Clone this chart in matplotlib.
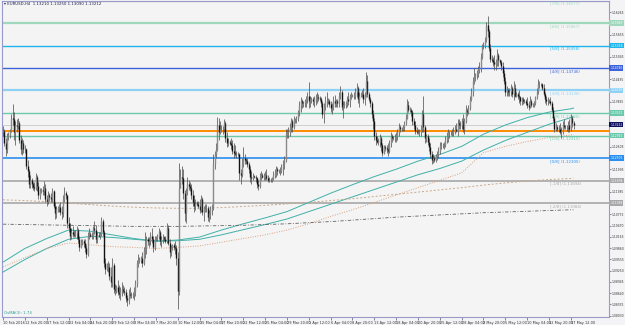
import matplotlib
matplotlib.use('Agg')
import matplotlib.pyplot as plt
import numpy as np

# ---------------- data (EURUSD H4, prices in 1/10000) ----------------
first_open = 11300
closes = [
    11305, 11270, 11255, 11290, 11292,                 # 10 Feb
    11305, 11340, 11335, 11300, 11320, 11318,          # 11 Feb
    11325, 11280, 11255, 11270, 11255, 11255,          # 12 Feb
    11210, 11195, 11160, 11170, 11160, 11153,          # 15 Feb
    11150, 11180, 11155, 11130, 11140, 11145,
    11140, 11150, 11120, 11115, 11130, 11125,
    11118, 11140, 11100, 11080, 11092, 11095,
    11098, 11085, 11080, 11120, 11135, 11130,
    11055, 11040, 11020, 11030, 11025, 11022,          # 22 Feb
    11028, 11035, 11012, 10990, 11000, 11005,
    11000, 10985, 10970, 11020, 11025, 11020,
    11018, 11040, 11035, 11010, 11022, 11020,
    11025, 11060, 11030, 10945, 10930, 10935,
    10935, 10910, 10895, 10940, 10875, 10872,          # 29 Feb
    10880, 10868, 10862, 10870, 10875, 10870,
    10868, 10850, 10845, 10862, 10858, 10860,
    10862, 10870, 10890, 10945, 10955, 10955,
    10960, 10945, 10980, 10985, 11010, 11005,
    11005, 11020, 11010, 10990, 11012, 11015,          # 7 Mar
    11018, 11030, 11005, 11010, 11015, 11010,
    11005, 11040, 11000, 10975, 10990, 10995,
    10990, 10985, 10960, 10870, 11150, 11180,
    11175, 11135, 11080, 11140, 11160, 11155,
    11150, 11130, 11110, 11100, 11108, 11105,          # 14 Mar
    11100, 11090, 11120, 11085, 11095, 11095,
    11095, 11070, 11080, 11090, 11100, 11215,
    11240, 11255, 11320, 11300, 11310, 11310,
    11310, 11325, 11285, 11270, 11275, 11270,
    11265, 11250, 11245, 11240, 11242, 11240,          # 21 Mar
    11190, 11185, 11215, 11230, 11225, 11222,
    11215, 11200, 11180, 11175, 11182, 11180,
    11175, 11160, 11155, 11180, 11185, 11180,
    11180, 11185, 11175, 11172, 11170, 11170,
    11175, 11185, 11190, 11200, 11195, 11195,          # 28 Mar
    11195, 11205, 11215, 11225, 11295, 11300,
    11300, 11315, 11330, 11315, 11335, 11335,
    11340, 11355, 11375, 11385, 11380, 11380,
    11385, 11390, 11400, 11385, 11390, 11390,
    11385, 11390, 11395, 11395, 11392, 11390,          # 4 Apr
    11380, 11350, 11370, 11385, 11385, 11385,
    11378, 11365, 11370, 11385, 11380, 11385,
    11380, 11400, 11410, 11370, 11375, 11375,
    11380, 11390, 11385, 11400, 11400, 11400,
    11400, 11410, 11420, 11390, 11400, 11405,          # 11 Apr
    11405, 11390, 11400, 11440, 11405, 11390,
    11380, 11350, 11330, 11290, 11280, 11275,
    11275, 11285, 11265, 11245, 11260, 11258,
    11255, 11250, 11270, 11290, 11285, 11285,
    11285, 11290, 11300, 11315, 11310, 11310,          # 18 Apr
    11315, 11325, 11340, 11375, 11360, 11360,
    11355, 11330, 11320, 11305, 11300, 11300,
    11300, 11310, 11350, 11315, 11285, 11290,
    11275, 11260, 11240, 11225, 11230, 11225,
    11235, 11240, 11250, 11265, 11265, 11265,          # 25 Apr
    11265, 11280, 11290, 11300, 11300, 11300,
    11300, 11305, 11310, 11305, 11325, 11320,
    11320, 11330, 11310, 11330, 11360, 11355,
    11365, 11390, 11410, 11440, 11450, 11455,
    11460, 11470, 11475, 11505, 11535, 11535,          # 2 May
    11550, 11590, 11575, 11530, 11500, 11497,
    11490, 11485, 11490, 11510, 11495, 11490,
    11480, 11460, 11440, 11410, 11415, 11410,
    11410, 11420, 11405, 11420, 11400, 11405,
    11400, 11395, 11385, 11390, 11385, 11385,          # 9 May
    11380, 11375, 11370, 11385, 11375, 11375,
    11380, 11395, 11410, 11430, 11430, 11430,
    11420, 11405, 11390, 11385, 11385, 11385,
    11380, 11360, 11340, 11310, 11315, 11310,
    11310, 11300, 11305, 11320, 11315, 11315,          # 16 May
    11315, 11320, 11310, 11340, 11325, 11321,
]
highs = [
    11318, 11310, 11285, 11298, 11300,
    11310, 11350, 11376, 11355, 11330, 11335,
    11338, 11330, 11292, 11285, 11280, 11265,
    11258, 11225, 11200, 11185, 11175, 11165,
    11165, 11190, 11185, 11165, 11150, 11150,
    11155, 11168, 11160, 11130, 11140, 11135,
    11135, 11148, 11145, 11110, 11100, 11100,
    11105, 11110, 11100, 11130, 11153, 11140,
    11085, 11070, 11055, 11040, 11045, 11035,
    11035, 11045, 11040, 11020, 11010, 11010,
    11012, 11010, 10995, 11030, 11040, 11030,
    11030, 11045, 11060, 11050, 11030, 11030,
    11030, 11070, 11065, 11035, 10960, 10945,
    10950, 10945, 10935, 10960, 10945, 10890,
    10885, 10900, 10885, 10880, 10895, 10885,
    10880, 10875, 10860, 10875, 10880, 10868,
    10868, 10880, 10900, 10955, 10970, 10962,
    10965, 10975, 10990, 11030, 11020, 11015,
    11015, 11030, 11040, 11020, 11020, 11020,
    11025, 11040, 11035, 11020, 11025, 11018,
    11020, 11055, 11050, 11010, 10995, 10998,
    11000, 11005, 10995, 10975, 11218, 11200,
    11210, 11200, 11145, 11150, 11180, 11170,
    11165, 11160, 11145, 11130, 11120, 11115,
    11115, 11120, 11130, 11125, 11100, 11105,
    11105, 11100, 11090, 11100, 11105, 11240,
    11250, 11270, 11342, 11340, 11330, 11320,
    11318, 11335, 11330, 11300, 11285, 11280,
    11285, 11280, 11270, 11265, 11250, 11248,
    11245, 11200, 11230, 11260, 11240, 11230,
    11230, 11220, 11210, 11195, 11190, 11185,
    11185, 11180, 11170, 11190, 11195, 11190,
    11190, 11195, 11200, 11185, 11180, 11175,
    11180, 11195, 11200, 11210, 11205, 11200,
    11205, 11215, 11225, 11235, 11310, 11310,
    11315, 11325, 11340, 11335, 11345, 11340,
    11345, 11360, 11385, 11395, 11390, 11385,
    11390, 11400, 11410, 11438, 11400, 11395,
    11395, 11400, 11405, 11410, 11405, 11398,
    11395, 11385, 11380, 11400, 11410, 11392,
    11390, 11385, 11380, 11400, 11402, 11390,
    11390, 11410, 11425, 11415, 11385, 11385,
    11385, 11400, 11410, 11405, 11410, 11405,
    11410, 11420, 11435, 11425, 11410, 11410,
    11415, 11420, 11410, 11464, 11455, 11410,
    11395, 11385, 11360, 11340, 11300, 11290,
    11285, 11295, 11290, 11270, 11265, 11265,
    11265, 11270, 11280, 11300, 11295, 11290,
    11295, 11300, 11310, 11325, 11320, 11315,
    11320, 11330, 11350, 11390, 11385, 11370,
    11365, 11360, 11340, 11330, 11315, 11310,
    11310, 11320, 11360, 11400, 11320, 11295,
    11295, 11285, 11270, 11250, 11240, 11235,
    11240, 11250, 11260, 11275, 11275, 11270,
    11275, 11290, 11300, 11308, 11305, 11303,
    11310, 11315, 11320, 11325, 11335, 11335,
    11330, 11340, 11350, 11340, 11375, 11365,
    11375, 11400, 11420, 11450, 11475, 11460,
    11470, 11480, 11490, 11515, 11540, 11545,
    11560, 11600, 11616, 11580, 11540, 11510,
    11505, 11510, 11500, 11525, 11515, 11500,
    11495, 11490, 11470, 11450, 11425, 11420,
    11420, 11430, 11425, 11440, 11430, 11410,
    11410, 11415, 11400, 11395, 11395, 11390,
    11390, 11395, 11385, 11400, 11390, 11380,
    11385, 11400, 11420, 11445, 11440, 11435,
    11435, 11430, 11410, 11400, 11395, 11390,
    11395, 11385, 11370, 11345, 11325, 11320,
    11320, 11325, 11315, 11330, 11336, 11320,
    11320, 11330, 11335, 11350, 11345, 11330,
]
lows = [
    11290, 11262, 11236, 11245, 11278,
    11285, 11300, 11320, 11280, 11265, 11300,
    11310, 11270, 11240, 11238, 11245, 11245,
    11200, 11180, 11150, 11148, 11150, 11145,
    11140, 11145, 11140, 11120, 11120, 11135,
    11130, 11130, 11110, 11100, 11105, 11115,
    11110, 11110, 11095, 11065, 11068, 11085,
    11085, 11075, 11064, 11070, 11110, 11120,
    11040, 11030, 11008, 11010, 11015, 11015,
    11015, 11010, 11000, 10978, 10985, 10995,
    10990, 10975, 10960, 10965, 11010, 11015,
    11010, 11010, 11025, 11000, 11000, 11015,
    11010, 11020, 11020, 10935, 10915, 10925,
    10920, 10900, 10880, 10880, 10865, 10860,
    10865, 10860, 10850, 10845, 10855, 10865,
    10860, 10840, 10830, 10835, 10850, 10850,
    10850, 10845, 10855, 10880, 10935, 10945,
    10945, 10935, 10940, 10960, 10970, 10995,
    10990, 10995, 11000, 10975, 10980, 11005,
    11005, 11010, 10995, 10990, 11000, 11005,
    11000, 11000, 10995, 10960, 10965, 10980,
    10980, 10970, 10940, 10822, 10860, 11150,
    11160, 11120, 11060, 11055, 11130, 11145,
    11140, 11120, 11100, 11085, 11090, 11100,
    11095, 11080, 11085, 11075, 11060, 11085,
    11085, 11060, 11058, 11065, 11075, 11090,
    11200, 11230, 11250, 11280, 11295, 11300,
    11295, 11300, 11275, 11260, 11262, 11265,
    11255, 11240, 11230, 11235, 11230, 11235,
    11170, 11160, 11180, 11205, 11215, 11215,
    11205, 11190, 11165, 11160, 11170, 11175,
    11165, 11150, 11144, 11150, 11170, 11175,
    11170, 11170, 11170, 11165, 11165, 11165,
    11165, 11170, 11175, 11180, 11185, 11190,
    11185, 11190, 11185, 11200, 11220, 11285,
    11285, 11290, 11300, 11300, 11310, 11325,
    11325, 11330, 11345, 11355, 11365, 11370,
    11370, 11370, 11380, 11365, 11370, 11380,
    11375, 11370, 11375, 11380, 11385, 11385,
    11370, 11340, 11325, 11360, 11370, 11378,
    11370, 11355, 11350, 11360, 11370, 11370,
    11370, 11370, 11390, 11360, 11340, 11365,
    11365, 11370, 11375, 11370, 11390, 11395,
    11390, 11390, 11395, 11380, 11370, 11395,
    11395, 11380, 11375, 11395, 11395, 11385,
    11370, 11340, 11310, 11280, 11265, 11270,
    11265, 11260, 11250, 11235, 11240, 11250,
    11245, 11235, 11245, 11260, 11275, 11278,
    11275, 11275, 11280, 11290, 11300, 11305,
    11305, 11305, 11320, 11335, 11355, 11355,
    11345, 11320, 11310, 11295, 11295, 11295,
    11290, 11290, 11300, 11300, 11270, 11275,
    11265, 11250, 11230, 11215, 11218, 11220,
    11220, 11225, 11230, 11240, 11255, 11258,
    11255, 11260, 11270, 11275, 11285, 11292,
    11290, 11290, 11295, 11300, 11290, 11310,
    11310, 11310, 11300, 11295, 11325, 11345,
    11350, 11360, 11385, 11400, 11430, 11440,
    11445, 11450, 11460, 11465, 11500, 11525,
    11530, 11545, 11560, 11520, 11490, 11490,
    11480, 11470, 11470, 11480, 11480, 11485,
    11470, 11450, 11430, 11400, 11400, 11400,
    11400, 11400, 11395, 11387, 11395, 11395,
    11390, 11380, 11375, 11375, 11378, 11380,
    11375, 11365, 11360, 11365, 11370, 11368,
    11370, 11375, 11390, 11405, 11420, 11425,
    11415, 11400, 11380, 11375, 11375, 11380,
    11375, 11355, 11330, 11300, 11305, 11305,
    11300, 11295, 11285, 11295, 11310, 11310,
    11305, 11300, 11300, 11305, 11315, 11310,
]

# time-axis labels (every 16 H4 bars)
time_labels = ["10 Feb 2016", "12 Feb 20:00", "17 Feb 12:00", "22 Feb 04:00", "24 Feb 20:00",
               "29 Feb 12:00", "3 Mar 04:00", "7 Mar 20:00", "10 Mar 12:00", "15 Mar 04:00",
               "17 Mar 20:00", "22 Mar 12:00", "25 Mar 04:00", "29 Mar 20:00", "1 Apr 12:00",
               "6 Apr 04:00", "8 Apr 20:00", "13 Apr 12:00", "18 Apr 04:00", "20 Apr 20:00",
               "25 Apr 12:00", "28 Apr 04:00", "2 May 20:00", "5 May 12:00", "10 May 04:00",
               "12 May 20:00", "17 May 12:00"]
label_step = 16

# price-axis labels
price_ticks = [1.08030, 1.08335, 1.08640, 1.08945, 1.09250, 1.09555, 1.09860, 1.10165,
               1.10470, 1.10775, 1.11080, 1.11385, 1.11690, 1.11995, 1.12300, 1.12605,
               1.12910, 1.13215, 1.13520, 1.13825, 1.14130, 1.14435, 1.14740, 1.15045,
               1.15350, 1.15655, 1.15960, 1.16265]

# Murrey math levels
mm_names = ["[7/8]", "[6/8]", "[5/8]", "[4/8]", "[3/8]", "[2/8]", "[1/8]", "[0/8]", "[-1/8]", "[-2/8]"]
mm_prices = [1.16577, 1.15967, 1.15356, 1.14746, 1.14136, 1.13525, 1.12915, 1.12305, 1.11694, 1.11084]
mm_colors = ["#9fd8bd", "#9fd8bd", "#1fb6ee", "#3d63d8", "#8fd0f5", "#6cc9ab", "#6cc9ab",
             "#2a8ff0", "#a8a8a8", "#a8a8a8"]
mm_widths = [1.6, 1.6, 1.0, 1.0, 1.6, 1.0, 1.0, 1.2, 1.2, 1.2]

orange_level = 1.13050
bid_price = 1.13212

# moving averages (sampled at bar indices)
ma_bars = [0, 16, 32, 48, 64, 80, 96, 112, 128, 144, 160, 176, 192, 208, 224, 240, 256, 272,
           288, 304, 320, 336, 352, 368, 384, 400, 416, 418]
ma_teal_a = [1.0948, 1.0985, 1.1012, 1.1035, 1.1032, 1.1022, 1.1012, 1.1005, 1.1008, 1.1016,
             1.1035, 1.1052, 1.1068, 1.1085, 1.1110, 1.1135, 1.1158, 1.1180, 1.1200, 1.1222,
             1.1240, 1.1262, 1.1295, 1.1320, 1.1340, 1.1355, 1.1364, 1.1366]
ma_teal_b = [1.0921, 1.0955, 1.0985, 1.1010, 1.1018, 1.1015, 1.1010, 1.1005, 1.1006, 1.1010,
             1.1022, 1.1036, 1.1050, 1.1065, 1.1085, 1.1105, 1.1125, 1.1145, 1.1165, 1.1185,
             1.1202, 1.1222, 1.1252, 1.1278, 1.1300, 1.1322, 1.1340, 1.1342]
ma_tan_a = [1.0935, 1.0960, 1.0985, 1.1000, 1.0995, 1.0990, 1.0988, 1.0985, 1.0988, 1.0992,
            1.1002, 1.1012, 1.1022, 1.1035, 1.1052, 1.1072, 1.1090, 1.1110, 1.1130, 1.1150,
            1.1170, 1.1190, 1.1245, 1.1262, 1.1275, 1.1286, 1.1293, 1.1294]
ma_tan_b = [1.1117, 1.1115, 1.1112, 1.1108, 1.1104, 1.1100, 1.1097, 1.1095, 1.1094, 1.1094,
            1.1096, 1.1099, 1.1102, 1.1106, 1.1110, 1.1115, 1.1120, 1.1126, 1.1132, 1.1138,
            1.1144, 1.1150, 1.1157, 1.1163, 1.1168, 1.1172, 1.1175, 1.1176]
ma_dark = [1.1051, 1.1050, 1.1049, 1.1048, 1.1047, 1.1046, 1.1045, 1.1045, 1.1045, 1.1046,
           1.1047, 1.1048, 1.1050, 1.1052, 1.1055, 1.1058, 1.1062, 1.1066, 1.1070, 1.1073,
           1.1076, 1.1079, 1.1082, 1.1084, 1.1086, 1.1088, 1.1090, 1.1090]

title_text = "EURUSD,H4  1.13210 1.13250 1.13090 1.13212"
ind_text = "OsMA(3): 1.74"

# ---------------- figure ----------------
assert len(closes) == len(highs) == len(lows)
C = np.array(closes) / 10000.0
Hh = np.array(highs) / 10000.0
Ll = np.array(lows) / 10000.0
O = np.concatenate([[first_open / 10000.0], C[:-1]])
n = len(C)
x = np.arange(n)

FS = 2.5
YFS = 2.2
W, Hpx = 625, 325
fig = plt.figure(figsize=(W / 100, Hpx / 100), dpi=100)
fig.patch.set_facecolor('#f4f4f6')
ax_l, ax_r, ax_t, ax_b = 2, 609, 1, 317
ax = fig.add_axes([ax_l / W, 1 - ax_b / Hpx, (ax_r - ax_l) / W, (ax_b - ax_t) / Hpx])
ax.set_facecolor('#f4f4f4')

px_per_bar = 1.365
x0px = 3
ax.set_xlim((ax_l - x0px) / px_per_bar, (ax_r - x0px) / px_per_bar)
ppp = 0.00027127
ax.set_ylim(1.15967 - (ax_b - 23) * ppp, 1.15967 + (23 - ax_t) * ppp)

# Murrey lines
for nm, p, col, lw in zip(mm_names, mm_prices, mm_colors, mm_widths):
    ax.axhline(p, color=col, lw=lw, zorder=2)
    ax.annotate(f"{nm} ({p:.5f})", xy=((550 - ax_l) / (ax_r - ax_l), p), xycoords=('axes fraction', 'data'),
                xytext=(0, -0.8), textcoords='offset points', fontsize=FS + 0.3, color=col,
                ha='left', va='top', zorder=3)
ax.axhline(orange_level, color='#ff8c00', lw=1.4, zorder=2)
ax.axhline(bid_price, color='#c8c8c8', lw=0.6, zorder=2)

# moving averages
ax.plot(ma_bars, ma_teal_a, color='#3fb0a8', lw=0.7, zorder=3)
ax.plot(ma_bars, ma_teal_b, color='#3fb0a8', lw=0.7, zorder=3)
ax.plot(ma_bars, ma_tan_a, color='#d9a080', lw=0.7, ls=(0, (1, 1.5)), zorder=3)
ax.plot(ma_bars, ma_tan_b, color='#c8a888', lw=0.7, ls=(0, (2, 2)), zorder=3)
ax.plot(ma_bars, ma_dark, color='#606060', lw=0.6, ls=(0, (4, 2, 1, 2)), zorder=3)

# candles
lo = np.minimum(Ll, np.minimum(O, C))
hi = np.maximum(Hh, np.maximum(O, C))
ax.vlines(x, lo, hi, color='#555555', lw=0.55, zorder=4)
bull = C >= O
bot = np.minimum(O, C)
top = np.maximum(O, C)
top = np.maximum(top, bot + 0.00004)
ax.vlines(x[~bull], bot[~bull], top[~bull], color='#111111', lw=1.0, zorder=5)
ax.vlines(x[bull], bot[bull], top[bull], color='#8a8a8a', lw=1.0, zorder=5)

# axes styling
for s in ax.spines.values():
    s.set_color('#9a9ac8')
    s.set_linewidth(0.8)
ax.yaxis.tick_right()
# labels hidden under the price tags are not drawn
tagged = mm_prices[1:] + [bid_price]
shown = [v for v in price_ticks if min(abs(v - t) for t in tagged) > 4 * ppp]
ax.set_yticks(price_ticks)
ax.set_yticklabels([f"{v:.5f}" if v in shown else "" for v in price_ticks])
ax.tick_params(axis='y', labelsize=YFS, length=1.2, width=0.5, color='#555577', pad=0.6, labelcolor='#333333')
pos = [i * label_step for i in range(len(time_labels))]
ax.set_xticks(pos)
ax.set_xticklabels(time_labels)
ax.tick_params(axis='x', labelsize=FS, length=2, width=0.5, color='#555577', pad=1, labelcolor='#333333')
for t in ax.get_xticklabels():
    t.set_horizontalalignment('left')

# price tags on the right axis
def tag(p, col, tc='white'):
    ax.annotate(f"{p:.5f}", xy=(1.0, p), xycoords=('axes fraction', 'data'),
                xytext=(0.9, 0), textcoords='offset points', fontsize=YFS, color=tc,
                ha='left', va='center', annotation_clip=False, zorder=10,
                bbox=dict(boxstyle='square,pad=0.25', fc=col, ec='none'))

for p, col in zip(mm_prices[1:], mm_colors[1:]):
    tag(p, col)
tag(bid_price, '#101060')

ax.text(0.003, 0.997, "\u25be " + title_text, transform=ax.transAxes, fontsize=FS + 0.3,
        color='#202050', ha='left', va='top', zorder=11)
ax.text(0.003, (ax_b - 313) / (ax_b - ax_t), ind_text, transform=ax.transAxes, fontsize=FS + 0.3,
        color='#2aa198', ha='left', va='center', zorder=11)

fig.savefig('out.png', dpi=100, facecolor=fig.get_facecolor())
